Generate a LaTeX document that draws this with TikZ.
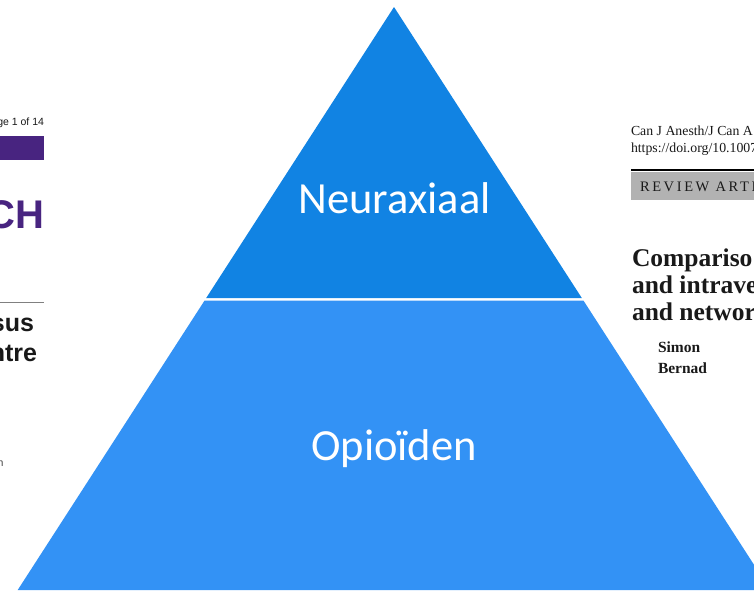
\documentclass[tikz,border=0pt]{standalone}
\usepackage{fontspec}
\setmainfont{Carlito}
\newfontfamily\arialf{Liberation Sans}
\newfontfamily\timesf{Liberation Serif}
\newfontfamily\timesspaced[LetterSpace=18]{Liberation Serif}
\definecolor{topblue}{RGB}{17,131,227}
\definecolor{botblue}{RGB}{51,146,245}
\definecolor{paperpurple}{RGB}{72,36,128}
\definecolor{bargrey}{RGB}{178,178,178}
\definecolor{papertext}{RGB}{25,25,25}
\tikzset{
  ptxt/.style={inner sep=0pt, outer sep=0pt, text=papertext},
  lefttxt/.style={ptxt, anchor=base east, font=\arialf},
  righttxt/.style={ptxt, anchor=base west, font=\timesf},
  level/.style={inner sep=0pt, anchor=base, text=white, font=\fontsize{44.5}{45}\selectfont}
}
\begin{document}
\begin{tikzpicture}[x=1pt,y=-1pt]
\useasboundingbox (0,0) rectangle (754,590);
\clip (0,0) rectangle (754,590);
\fill[white] (0,0) rectangle (754,590);
% left paper fragment
\node[lefttxt, font=\arialf\fontsize{10.5}{12}\selectfont] (pg) at (44,125) {ge 1 of 14};
\fill[paperpurple] (0,136) rectangle (44,160);
\node[lefttxt, text=paperpurple, font=\arialf\bfseries\fontsize{40}{40}\selectfont] (ch) at (44,228) {CH};
\draw[gray, line width=1pt] (0,302) -- (44,302);
\node[lefttxt, font=\arialf\bfseries\fontsize{25}{26}\selectfont] (sus) at (34,331) {sus};
\node[lefttxt, font=\arialf\bfseries\fontsize{25}{26}\selectfont] (ntre) at (37,361) {ntre};
\node[lefttxt, text=darkgray, font=\arialf\fontsize{10.5}{12}\selectfont] (nn) at (3.5,466) {n};
% right paper fragment
\node[righttxt, font=\timesf\fontsize{13.8}{15}\selectfont] (jour) at (631,135) {Can J Anesth/J Can A};
\node[righttxt, font=\timesf\fontsize{13.8}{15}\selectfont] (doi) at (631,152) {https://doi.org/10.1007};
\draw[black, line width=2pt] (631,170) -- (754,170);
\fill[bargrey] (631,172) rectangle (754,200);
\node[righttxt, font=\timesspaced\fontsize{14.5}{15}\selectfont] (rev) at (640,191) {REVIEW ARTI};
\node[righttxt, font=\timesf\bfseries\fontsize{25.5}{26}\selectfont] (t1) at (632,266) {Compariso};
\node[righttxt, font=\timesf\bfseries\fontsize{25.5}{26}\selectfont] (t2) at (632,293) {and intrave};
\node[righttxt, font=\timesf\bfseries\fontsize{25.5}{26}\selectfont] (t3) at (632,320) {and networ};
\node[righttxt, font=\timesf\bfseries\fontsize{15.5}{18}\selectfont] (a1) at (658,352) {Simon};
\node[righttxt, font=\timesf\bfseries\fontsize{15.5}{18}\selectfont] (a2) at (658,373) {Bernad};
% pyramid
\fill[topblue] (394,7) -- (206.2,298) -- (581.8,298) -- cycle;
\fill[botblue] (204.6,300.5) -- (583.4,300.5) -- (770.3,590) -- (17.7,590) -- cycle;
\node[level] (neur) at (394.5,213) {Neuraxiaal};
\node[level] (opio) at (394,460) {Opioïden};
\end{tikzpicture}
\end{document}
